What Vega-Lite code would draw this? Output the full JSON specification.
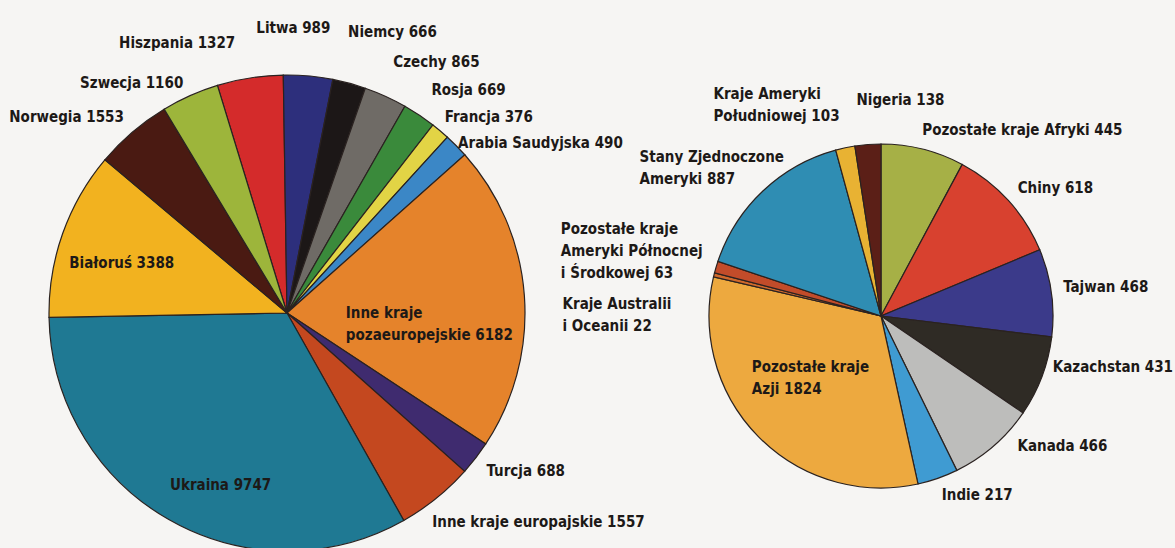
{
  "$schema": "https://vega.github.io/schema/vega-lite/v6.json",
  "background": "#f6f5f3",
  "padding": 0,
  "spacing": 0,
  "bounds": "flush",
  "config": {
    "view": {"stroke": null},
    "text": {"font": "Liberation Sans Narrow, DejaVu Sans Condensed, Roboto Condensed, Roboto", "fontWeight": "bold", "fontSize": 15, "color": "#1d1917", "lineHeight": 22, "baseline": "middle"}
  },
  "resolve": {"scale": {"color": "independent", "theta": "independent"}},
  "datasets": {
    "europe": [
      {"ord": 1, "name": "Hiszpania", "v": 1327, "label": "Hiszpania 1327"},
      {"ord": 2, "name": "Litwa", "v": 989, "label": "Litwa 989"},
      {"ord": 3, "name": "Niemcy", "v": 666, "label": "Niemcy 666"},
      {"ord": 4, "name": "Czechy", "v": 865, "label": "Czechy 865"},
      {"ord": 5, "name": "Rosja", "v": 669, "label": "Rosja 669"},
      {"ord": 6, "name": "Francja", "v": 376, "label": "Francja 376"},
      {"ord": 7, "name": "Arabia Saudyjska", "v": 490, "label": "Arabia Saudyjska 490"},
      {"ord": 8, "name": "Inne kraje pozaeuropejskie", "v": 6182, "label": ["Inne kraje", "pozaeuropejskie 6182"]},
      {"ord": 9, "name": "Turcja", "v": 688, "label": "Turcja 688"},
      {"ord": 10, "name": "Inne kraje europajskie", "v": 1557, "label": "Inne kraje europajskie 1557"},
      {"ord": 11, "name": "Ukraina", "v": 9747, "label": "Ukraina 9747"},
      {"ord": 12, "name": "Białoruś", "v": 3388, "label": "Białoruś 3388"},
      {"ord": 13, "name": "Norwegia", "v": 1553, "label": "Norwegia 1553"},
      {"ord": 14, "name": "Szwecja", "v": 1160, "label": "Szwecja 1160"}
    ],
    "other": [
      {"ord": 1, "name": "Pozostałe kraje Afryki", "v": 445, "label": "Pozostałe kraje Afryki 445"},
      {"ord": 2, "name": "Chiny", "v": 618, "label": "Chiny 618"},
      {"ord": 3, "name": "Tajwan", "v": 468, "label": "Tajwan 468"},
      {"ord": 4, "name": "Kazachstan", "v": 431, "label": "Kazachstan 431"},
      {"ord": 5, "name": "Kanada", "v": 466, "label": "Kanada 466"},
      {"ord": 6, "name": "Indie", "v": 217, "label": "Indie 217"},
      {"ord": 7, "name": "Pozostałe kraje Azji", "v": 1824, "label": ["Pozostałe kraje", "Azji 1824"]},
      {"ord": 8, "name": "Kraje Australii i Oceanii", "v": 22, "label": ["Kraje Australii", "i Oceanii 22"]},
      {"ord": 9, "name": "Pozostałe kraje Ameryki Północnej i Środkowej", "v": 63, "label": ["Pozostałe kraje", "Ameryki Północnej", "i Środkowej 63"]},
      {"ord": 10, "name": "Stany Zjednoczone Ameryki", "v": 887, "label": ["Stany Zjednoczone", "Ameryki 887"]},
      {"ord": 11, "name": "Kraje Ameryki Południowej", "v": 103, "label": ["Kraje Ameryki", "Południowej 103"]},
      {"ord": 12, "name": "Nigeria", "v": 138, "label": "Nigeria 138"}
    ]
  },
  "hconcat": [
    {
      "width": 574,
      "height": 626,
      "data": {"name": "europe"},
      "encoding": {
        "theta": {"field": "v", "type": "quantitative", "stack": true, "scale": {"range": [-0.2967, 5.9865]}},
        "order": {"field": "ord", "type": "quantitative"},
        "detail": {"field": "name", "type": "nominal"}
      },
      "layer": [
        {
          "mark": {"type": "arc", "outerRadius": 238, "stroke": "#2a2220", "strokeWidth": 1.2},
          "encoding": {
            "color": {"field": "name", "type": "nominal", "legend": null,
              "scale": {
                "domain": ["Hiszpania", "Litwa", "Niemcy", "Czechy", "Rosja", "Francja", "Arabia Saudyjska", "Inne kraje pozaeuropejskie", "Turcja", "Inne kraje europajskie", "Ukraina", "Białoruś", "Norwegia", "Szwecja"],
                "range": ["#d42b2b", "#2d2f7c", "#1c1717", "#6f6b66", "#3a8a3b", "#e2d445", "#3b87c6", "#e5832b", "#3f2b6f", "#c4481f", "#1f7993", "#f2b21f", "#4a1a12", "#9db53b"]
              }}
          }
        },
        {"mark": {"type": "text", "radius": 262, "align": "right", "dx": -11, "dy": -11}, "encoding": {"text": {"condition": {"test": "datum.ord === 1", "field": "label"}, "value": ""}}},
        {"mark": {"type": "text", "radius": 262, "align": "center", "dx": -17, "dy": -24}, "encoding": {"text": {"condition": {"test": "datum.ord === 2", "field": "label"}, "value": ""}}},
        {"mark": {"type": "text", "radius": 262, "align": "center", "dx": 37, "dy": -28}, "encoding": {"text": {"condition": {"test": "datum.ord === 3", "field": "label"}, "value": ""}}},
        {"mark": {"type": "text", "radius": 262, "align": "center", "dx": 41, "dy": -12}, "encoding": {"text": {"condition": {"test": "datum.ord === 4", "field": "label"}, "value": ""}}},
        {"mark": {"type": "text", "radius": 262, "align": "center", "dx": 36, "dy": -5}, "encoding": {"text": {"condition": {"test": "datum.ord === 5", "field": "label"}, "value": ""}}},
        {"mark": {"type": "text", "radius": 262, "align": "center", "dx": 33, "dy": 4}, "encoding": {"text": {"condition": {"test": "datum.ord === 6", "field": "label"}, "value": ""}}},
        {"mark": {"type": "text", "radius": 262, "align": "center", "dx": 67, "dy": 14}, "encoding": {"text": {"condition": {"test": "datum.ord === 7", "field": "label"}, "value": ""}}},
        {"mark": {"type": "text", "radius": 60, "align": "left", "dx": -1, "dy": 4}, "encoding": {"text": {"condition": {"test": "datum.ord === 8", "field": "label"}, "value": ""}}},
        {"mark": {"type": "text", "radius": 262, "align": "center", "dx": 31, "dy": -2}, "encoding": {"text": {"condition": {"test": "datum.ord === 9", "field": "label"}, "value": ""}}},
        {"mark": {"type": "text", "radius": 262, "align": "left", "dx": -19, "dy": 5}, "encoding": {"text": {"condition": {"test": "datum.ord === 10", "field": "label"}, "value": ""}}},
        {"mark": {"type": "text", "radius": 180, "align": "center", "dx": 23, "dy": 16}, "encoding": {"text": {"condition": {"test": "datum.ord === 11", "field": "label"}, "value": ""}}},
        {"mark": {"type": "text", "radius": 170, "align": "center", "dx": -5, "dy": 7}, "encoding": {"text": {"condition": {"test": "datum.ord === 12", "field": "label"}, "value": ""}}},
        {"mark": {"type": "text", "radius": 262, "align": "right", "dx": 7, "dy": 3}, "encoding": {"text": {"condition": {"test": "datum.ord === 13", "field": "label"}, "value": ""}}},
        {"mark": {"type": "text", "radius": 262, "align": "right", "dx": 3, "dy": 9}, "encoding": {"text": {"condition": {"test": "datum.ord === 14", "field": "label"}, "value": ""}}}
      ]
    },
    {
      "width": 614,
      "height": 632,
      "data": {"name": "other"},
      "encoding": {
        "theta": {"field": "v", "type": "quantitative", "stack": true, "scale": {"range": [0, 6.2832]}},
        "order": {"field": "ord", "type": "quantitative"},
        "detail": {"field": "name", "type": "nominal"}
      },
      "layer": [
        {
          "mark": {"type": "arc", "outerRadius": 172, "stroke": "#2a2220", "strokeWidth": 1.2},
          "encoding": {
            "color": {"field": "name", "type": "nominal", "legend": null,
              "scale": {
                "domain": ["Pozostałe kraje Afryki", "Chiny", "Tajwan", "Kazachstan", "Kanada", "Indie", "Pozostałe kraje Azji", "Kraje Australii i Oceanii", "Pozostałe kraje Ameryki Północnej i Środkowej", "Stany Zjednoczone Ameryki", "Kraje Ameryki Południowej", "Nigeria"],
                "range": ["#a6b046", "#d8412f", "#3b3a8a", "#2f2b25", "#bdbdbb", "#3f9bd2", "#eda93f", "#d0692c", "#c24c2a", "#2f8db3", "#e8b233", "#5b1f17"]
              }}
          }
        },
        {"mark": {"type": "text", "radius": 190, "align": "left", "dx": -5, "dy": -2}, "encoding": {"text": {"condition": {"test": "datum.ord === 1", "field": "label"}, "value": ""}}},
        {"mark": {"type": "text", "radius": 190, "align": "left", "dx": -4, "dy": 0}, "encoding": {"text": {"condition": {"test": "datum.ord === 2", "field": "label"}, "value": ""}}},
        {"mark": {"type": "text", "radius": 190, "align": "left", "dx": -6, "dy": -3}, "encoding": {"text": {"condition": {"test": "datum.ord === 3", "field": "label"}, "value": ""}}},
        {"mark": {"type": "text", "radius": 190, "align": "left", "dx": -6, "dy": -16}, "encoding": {"text": {"condition": {"test": "datum.ord === 4", "field": "label"}, "value": ""}}},
        {"mark": {"type": "text", "radius": 190, "align": "left", "dx": 12, "dy": -14}, "encoding": {"text": {"condition": {"test": "datum.ord === 5", "field": "label"}, "value": ""}}},
        {"mark": {"type": "text", "radius": 190, "align": "left", "dx": -2, "dy": 0}, "encoding": {"text": {"condition": {"test": "datum.ord === 6", "field": "label"}, "value": ""}}},
        {"mark": {"type": "text", "radius": 100, "align": "left", "dx": -58, "dy": -19}, "encoding": {"text": {"condition": {"test": "datum.ord === 7", "field": "label"}, "value": ""}}},
        {"mark": {"type": "text", "radius": 190, "align": "left", "dx": -134, "dy": 33}, "encoding": {"text": {"condition": {"test": "datum.ord === 8", "field": "label"}, "value": ""}}},
        {"mark": {"type": "text", "radius": 190, "align": "left", "dx": -138, "dy": -33}, "encoding": {"text": {"condition": {"test": "datum.ord === 9", "field": "label"}, "value": ""}}},
        {"mark": {"type": "text", "radius": 190, "align": "left", "dx": -111, "dy": -21}, "encoding": {"text": {"condition": {"test": "datum.ord === 10", "field": "label"}, "value": ""}}},
        {"mark": {"type": "text", "radius": 190, "align": "left", "dx": -128, "dy": -36}, "encoding": {"text": {"condition": {"test": "datum.ord === 11", "field": "label"}, "value": ""}}},
        {"mark": {"type": "text", "radius": 190, "align": "center", "dx": 34, "dy": -27}, "encoding": {"text": {"condition": {"test": "datum.ord === 12", "field": "label"}, "value": ""}}}
      ]
    }
  ]
}
